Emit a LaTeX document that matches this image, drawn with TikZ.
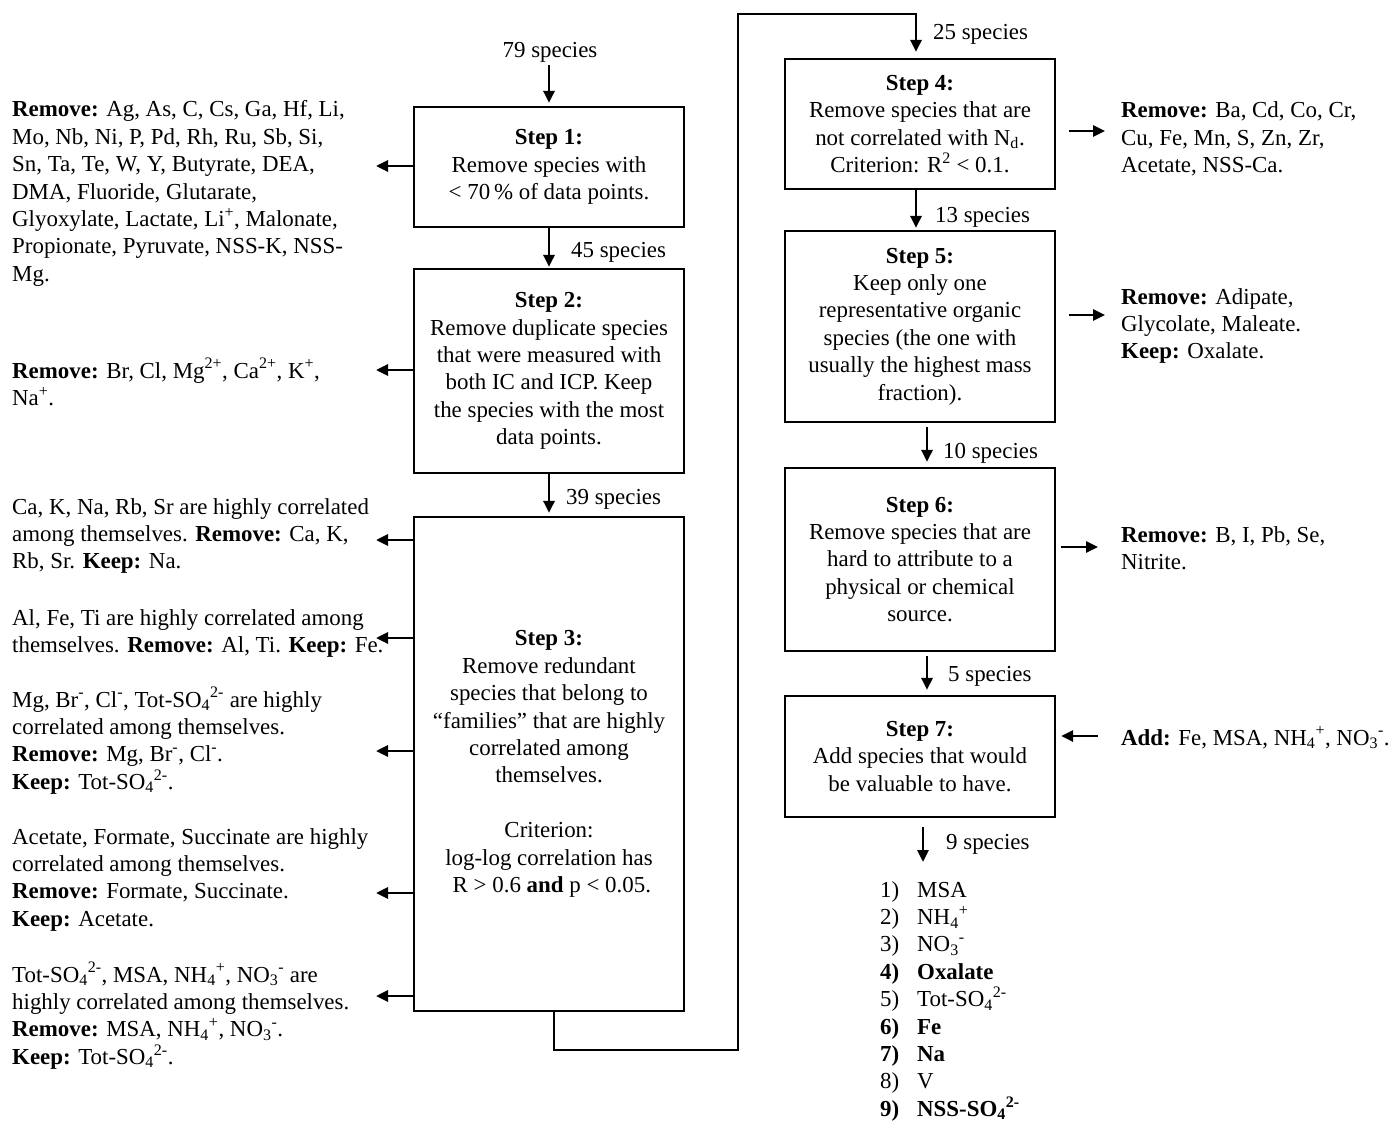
\documentclass[tikz,border=0pt]{standalone}
\usepackage{fontspec}
\setmainfont{Liberation Serif}
\usetikzlibrary{arrows.meta}
\newcommand\SupT[1]{\textsuperscript{#1}}
\newcommand\SubT[1]{\textsubscript{#1}}
\begin{document}
\begin{tikzpicture}[x=1pt,y=-1pt,
  txt/.style={font={\fontsize{22.9}{27.4}\selectfont\lineskiplimit=-100pt}, inner sep=0pt},
  lefttxt/.style={txt, anchor=base west, align=left},
  lbl/.style={txt, anchor=base west},
  stepbox/.style={txt, draw, line width=2.2pt, align=center, minimum width=270pt},
  arr/.style={line width=2.8pt, -{Triangle[length=12pt,width=11pt]}},
  conn/.style={line width=2.8pt}]
\useasboundingbox (0,0) rectangle (1395,1134);

% step boxes
\node[stepbox, minimum height=120pt] (s1) at (549,167) {\textbf{Step 1:}\\ Remove species with\\ <~70\,\% of data points.};
\node[stepbox, minimum height=204pt] (s2) at (549,371) {\textbf{Step 2:}\\ Remove duplicate species\\ that were measured with\\ both IC and ICP. Keep\\ the species with the most\\ data points.};
\node[stepbox, minimum height=494pt] (s3) at (549,764) {\textbf{Step 3:}\\ Remove redundant\\ species that belong to\\ ``families'' that are highly\\ correlated among\\ themselves.\\[27.4pt] Criterion:\\ log-log correlation has\\ \ R > 0.6 \textbf{and} p < 0.05.};
\node[stepbox, minimum height=130pt] (s4) at (920,124) {\textbf{Step 4:}\\ Remove species that are\\ not correlated with N\SubT{d}.\\ Criterion: R\SupT{2} < 0.1.};
\node[stepbox, minimum height=191pt] (s5) at (920,326.5) {\textbf{Step 5:}\\ Keep only one\\ representative organic\\ species (the one with\\ usually the highest mass\\ fraction).};
\node[stepbox, minimum height=183pt] (s6) at (920,559.5) {\textbf{Step 6:}\\ Remove species that are\\ hard to attribute to a\\ physical or chemical\\ source.};
\node[stepbox, minimum height=121pt] (s7) at (920,756.5) {\textbf{Step 7:}\\ Add species that would\\ be valuable to have.};

% species counts
\node[txt, anchor=base] (n79) at (550,58) {79 species};
\node[lbl] (n45) at (571,258) {45 species};
\node[lbl] (n39) at (566,504) {39 species};
\node[lbl] (n25) at (933,40) {25 species};
\node[lbl] (n13) at (935,223) {13 species};
\node[lbl] (n10) at (943,458) {10 species};
\node[lbl] (n5) at (948,681) {5 species};
\node[lbl] (n9) at (946,849) {9 species};

% left texts (anchored at the baseline of their last line)
\node[lefttxt] (l1) at (12,281.4) {\textbf{Remove:} Ag, As, C, Cs, Ga, Hf, Li,\\
Mo, Nb, Ni, P, Pd, Rh, Ru, Sb, Si,\\
Sn, Ta, Te, W, Y, Butyrate, DEA,\\
DMA, Fluoride, Glutarate,\\
Glyoxylate, Lactate, Li\SupT{+}, Malonate,\\
Propionate, Pyruvate, NSS-K, NSS-\\
Mg.};
\node[lefttxt] (l2) at (12,405.4) {\textbf{Remove:} Br, Cl, Mg\SupT{2+}, Ca\SupT{2+}, K\SupT{+},\\ Na\SupT{+}.};
\node[lefttxt] (l3) at (12,568.8) {Ca, K, Na, Rb, Sr are highly correlated\\ among themselves. \textbf{Remove:} Ca, K,\\ Rb, Sr. \textbf{Keep:} Na.};
\node[lefttxt] (l4) at (12,652.4) {Al, Fe, Ti are highly correlated among\\ themselves. \textbf{Remove:} Al, Ti. \textbf{Keep:} Fe.};
\node[lefttxt] (l5) at (12,789.2) {Mg, Br\SupT{-}, Cl\SupT{-}, Tot-SO\SubT{4}\SupT{2-} are highly\\ correlated among themselves.\\ \textbf{Remove:} Mg, Br\SupT{-}, Cl\SupT{-}.\\ \textbf{Keep:} Tot-SO\SubT{4}\SupT{2-}.};
\node[lefttxt] (l6) at (12,926.2) {Acetate, Formate, Succinate are highly\\ correlated among themselves.\\ \textbf{Remove:} Formate, Succinate.\\ \textbf{Keep:} Acetate.};
\node[lefttxt] (l7) at (12,1064.2) {Tot-SO\SubT{4}\SupT{2-}, MSA, NH\SubT{4}\SupT{+}, NO\SubT{3}\SupT{-} are\\ highly correlated among themselves.\\ \textbf{Remove:} MSA, NH\SubT{4}\SupT{+}, NO\SubT{3}\SupT{-}.\\ \textbf{Keep:} Tot-SO\SubT{4}\SupT{2-}.};

% right texts
\node[lefttxt] (r4) at (1121,172.8) {\textbf{Remove:} Ba, Cd, Co, Cr,\\ Cu, Fe, Mn, S, Zn, Zr,\\ Acetate, NSS-Ca.};
\node[lefttxt] (r5) at (1121,358.8) {\textbf{Remove:} Adipate,\\ Glycolate, Maleate.\\ \textbf{Keep:} Oxalate.};
\node[lefttxt] (r6) at (1121,569.4) {\textbf{Remove:} B, I, Pb, Se,\\ Nitrite.};
\node[lefttxt] (r7) at (1121,745) {\textbf{Add:} Fe, MSA, NH\SubT{4}\SupT{+}, NO\SubT{3}\SupT{-}.};

% final list
\node[lefttxt] (nums) at (880,1116.2) {1)\\ 2)\\ 3)\\ \textbf{4)}\\ 5)\\ \textbf{6)}\\ \textbf{7)}\\ 8)\\ \textbf{9)}};
\node[lefttxt] (list) at (917,1116.2) {MSA\\ NH\SubT{4}\SupT{+}\\ NO\SubT{3}\SupT{-}\\ \textbf{Oxalate}\\ Tot-SO\SubT{4}\SupT{2-}\\ \textbf{Fe}\\ \textbf{Na}\\ V\\ \textbf{NSS-SO\SubT{4}\SupT{2-}}};

% vertical flow arrows
\draw[arr, shorten <=2pt, shorten >=3pt] (n79.south -| s1.north) -- (s1.north);
\draw[arr, shorten >=1pt] (s1.south) -- (s2.north);
\draw[arr, shorten >=3pt] (s2.south) -- (s3.north);
\draw[arr, shorten >=6pt] ([xshift=5pt]s3.south) |- (738,1050) |- (916,14) -- (s4.north -| 916,0);
\draw[arr, shorten >=2pt] (s4.south -| 916,0) -- (s5.north -| 916,0);
\draw[arr, shorten <=4pt, shorten >=5pt] (s5.south -| 927,0) -- (s6.north -| 927,0);
\draw[arr, shorten <=4pt, shorten >=5pt] (s6.south -| 927,0) -- (s7.north -| 927,0);
\draw[arr, shorten <=9pt] (s7.south -| 923,0) -- (923,862);

% left arrows
\draw[arr] (s1.west |- 0,166) -- (376,166);
\draw[arr] (s2.west |- 0,370) -- (376,370);
\draw[arr] (s3.west |- 0,540) -- (376,540);
\draw[arr] (s3.west |- 0,638) -- (376,638);
\draw[arr] (s3.west |- 0,751) -- (376,751);
\draw[arr] (s3.west |- 0,893) -- (376,893);
\draw[arr] (s3.west |- 0,996) -- (376,996);

% right arrows
\draw[arr, shorten <=13pt, shorten >=16pt] (s4.east |- 0,131) -- (r4.west |- 0,131);
\draw[arr, shorten <=13pt, shorten >=16pt] (s5.east |- 0,315) -- (r5.west |- 0,315);
\draw[arr, shorten <=5pt, shorten >=23pt] (s6.east |- 0,547) -- (r6.west |- 0,547);
\draw[arr, shorten <=23pt, shorten >=5pt] (r7.west |- 0,736) -- (s7.east |- 0,736);
\end{tikzpicture}
\end{document}
